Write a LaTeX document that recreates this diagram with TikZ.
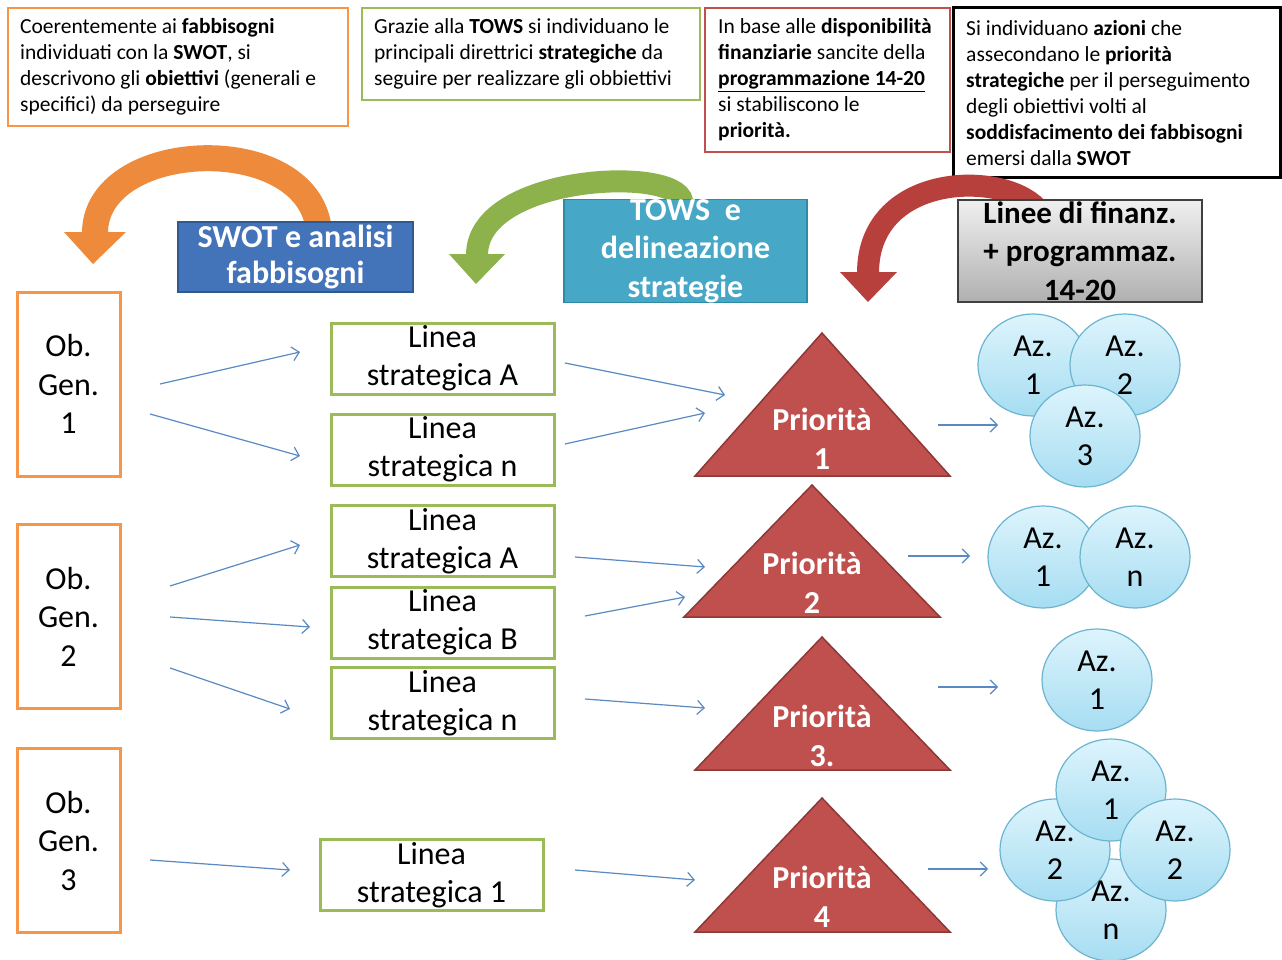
\documentclass[tikz,border=0pt]{standalone}
\usepackage{fontspec}
\setmainfont{Carlito}
\usetikzlibrary{arrows.meta,shapes.geometric}
\definecolor{cOrange}{HTML}{F79646}
\definecolor{cOrangeA}{HTML}{EE8A3C}
\definecolor{cGreen}{HTML}{9BBB59}
\definecolor{cGreenA}{HTML}{8DB24C}
\definecolor{cRed}{HTML}{C0504D}
\definecolor{cRedA}{HTML}{B8403C}
\definecolor{cRedDark}{HTML}{8C3836}
\definecolor{cSwot}{HTML}{4374BA}
\definecolor{cSwotB}{HTML}{2F5A8F}
\definecolor{cTows}{HTML}{46A8C6}
\definecolor{cTowsB}{HTML}{2E8AA5}
\definecolor{cLink}{HTML}{5A8AC4}
\definecolor{cCircT}{HTML}{DDF4FC}
\definecolor{cCircBot}{HTML}{A6DDF2}
\definecolor{cCircB}{HTML}{6CB4CF}
\begin{document}
\begin{tikzpicture}[x=1pt,y=-1pt,
  topbox/.style={draw=#1, line width=2.5pt, fill=white, inner sep=0pt},
  toptext/.style={font=\fontsize{21.5}{26}\selectfont, align=left, inner sep=0pt, anchor=west},
  obbox/.style={draw=cOrange, line width=3pt, fill=white, minimum width=103pt, minimum height=184pt, inner sep=0pt, align=center, font=\fontsize{32}{38.5}\selectfont},
  linbox/.style={draw=cGreen, line width=3pt, fill=white, minimum width=223pt, minimum height=71pt, inner sep=0pt, align=center, font=\fontsize{32}{38}\selectfont},
  headbox/.style={inner sep=0pt, align=center, minimum width=#1},
  prtext/.style={text=white, align=center, font=\bfseries\fontsize{32}{39}\selectfont, inner sep=0pt},
  prtri/.style={fill=cRed, draw=cRedDark, line width=1.5pt, line join=miter},
  az/.style={ellipse, draw=cCircB, line width=1.2pt, top color=cCircT, bottom color=cCircBot, minimum width=110pt, minimum height=102pt, inner sep=0pt},
  aztext/.style={align=center, font=\fontsize{32}{38}\selectfont, inner sep=0pt},
  link/.style={draw=cLink, line width=1.2pt, -{Straight Barb[length=7pt,width=14pt]}},
  bend/.style={line width=#1, line cap=butt}
]
\useasboundingbox (0,0) rectangle (1282,960);
\fill[white] (0,0) rectangle (1282,960);

% ---------- top description boxes ----------
\node[topbox=cOrange, minimum width=340pt, minimum height=118pt] (d1) at (178,67) {};
\node[toptext] (t1) at (20,67) {Coerentemente ai \textbf{fabbisogni}\\individuati con la \textbf{SWOT}, si\\descrivono gli \textbf{obiettivi} (generali e\\specifici) da perseguire};
\node[topbox=cGreen, minimum width=338pt, minimum height=92pt] (d2) at (531,54) {};
\node[toptext] (t2) at (374,54) {Grazie alla \textbf{TOWS} si individuano le\\principali direttrici \textbf{strategiche} da\\seguire per realizzare gli obbiettivi};
\node[topbox=cRed, minimum width=245pt, minimum height=144pt] (d3) at (827.5,80) {};
\node[toptext] (t3) at (718,80) {In base alle \textbf{disponibilità}\\\textbf{finanziarie} sancite della\\\underline{\textbf{programmazione 14-20}}\\si stabiliscono le\\\textbf{priorità.}};
\node[topbox=black, line width=3pt, minimum width=327pt, minimum height=170pt] (d4) at (1116.5,93) {};
\node[toptext] (t4) at (966,93) {Si individuano \textbf{azioni} che\\assecondano le \textbf{priorità}\\\textbf{strategiche} per il perseguimento\\degli obiettivi volti al\\\textbf{soddisfacimento dei fabbisogni}\\emersi dalla \textbf{SWOT}};

% ---------- curved arrows ----------
\draw[bend=26pt, cOrangeA] (318,224) .. controls (300,130) and (95,140) .. (95,233);
\fill[cOrangeA] (64,232) -- (126,232) -- (93,264) -- cycle;
\draw[bend=22pt, cGreenA] (682,205) .. controls (690,165) and (477,172) .. (477,255);
\fill[cGreenA] (449,254) -- (505,254) -- (476,284) -- cycle;
\draw[bend=22pt, cRedA] (1040,212) .. controls (1010,170) and (868,170) .. (868,273);
\fill[cRedA] (840,272) -- (897,272) -- (868,302) -- cycle;

% ---------- header labels ----------
\node[headbox=235pt, minimum height=70pt, fill=cSwot, draw=cSwotB, line width=1.5pt, text=white, font=\bfseries\fontsize{32}{36}\selectfont] (swot) at (295.5,257) {SWOT e analisi\\fabbisogni};
\node[headbox=243pt, minimum height=102pt, fill=cTows, draw=cTowsB, line width=1.5pt, text=white, font=\bfseries\fontsize{32}{38.5}\selectfont] (tows) at (685.5,251) {TOWS\ \ e\\delineazione\\strategie};
\node[headbox=244pt, minimum height=102pt, top color=gray!12, bottom color=gray!62, draw=black!75, line width=1.2pt, font=\bfseries\fontsize{31}{38.5}\selectfont] (linee) at (1080,251) {Linee di finanz.\\+ programmaz.\\14-20};

% ---------- objectives ----------
\node[obbox] (ob1) at (68.5,384) {Ob.\\Gen.\\1};
\node[obbox] (ob2) at (68.5,616.5) {Ob.\\Gen.\\2};
\node[obbox] (ob3) at (68.5,840.5) {Ob.\\Gen.\\3};

% ---------- strategic lines ----------
\node[linbox] (l1a) at (442.5,358.5) {Linea\\strategica A};
\node[linbox] (l1n) at (442.5,449.5) {Linea\\strategica n};
\node[linbox] (l2a) at (442.5,541) {Linea\\strategica A};
\node[linbox] (l2b) at (442.5,622.5) {Linea\\strategica B};
\node[linbox] (l2n) at (442.5,703) {Linea\\strategica n};
\node[linbox] (l31) at (431.5,875) {Linea\\strategica 1};

% ---------- priorities ----------
\path[prtri] (695,476) -- (822,333) -- (950,476) -- cycle;
\node[prtext] (p1) at (822,438.5) {Priorità\\1};
\path[prtri] (684,617) -- (812,485) -- (940,617) -- cycle;
\node[prtext] (p2) at (812,583) {Priorità\\2};
\path[prtri] (695,770) -- (822,637) -- (950,770) -- cycle;
\node[prtext] (p3) at (822,735.5) {Priorità\\3.};
\path[prtri] (695,932) -- (822,798) -- (950,932) -- cycle;
\node[prtext] (p4) at (822,897) {Priorità\\4};

% ---------- actions ----------
\node[az] (g1a) at (1033,365) {};
\node[az] (g1b) at (1125,365) {};
\node[az] (g1c) at (1085,436) {};
\node[az] (g2a) at (1043,557) {};
\node[az] (g2b) at (1135,557) {};
\node[az] (g3a) at (1097,680) {};
\node[az] (g4d) at (1111,910) {};
\node[az] (g4b) at (1055,850) {};
\node[az] (g4a) at (1111,790) {};
\node[az] (g4c) at (1175,850) {};
\node[aztext] (g1at) at (g1a) {Az.\\1};
\node[aztext] (g1bt) at (g1b) {Az.\\2};
\node[aztext] (g1ct) at (g1c) {Az.\\3};
\node[aztext] (g2at) at (g2a) {Az.\\1};
\node[aztext] (g2bt) at (g2b) {Az.\\n};
\node[aztext] (g3at) at (g3a) {Az.\\1};
\node[aztext] (g4at) at (g4a) {Az.\\1};
\node[aztext] (g4bt) at (g4b) {Az.\\2};
\node[aztext] (g4ct) at (g4c) {Az.\\2};
\node[aztext] (g4dt) at (g4d) {Az.\\n};

% ---------- thin arrows ----------
\coordinate (a1s) at (160,384); \coordinate (a1e) at (300,352);
\coordinate (a2s) at (150,414); \coordinate (a2e) at (300,456);
\coordinate (a3s) at (565,363); \coordinate (a3e) at (725,395);
\coordinate (a4s) at (565,444); \coordinate (a4e) at (705,413);
\coordinate (a5s) at (938,425); \coordinate (a5e) at (998,425);
\coordinate (b1s) at (170,586); \coordinate (b1e) at (300,545);
\coordinate (b2s) at (170,617); \coordinate (b2e) at (310,627);
\coordinate (b3s) at (170,668); \coordinate (b3e) at (290,709);
\coordinate (b4s) at (575,557); \coordinate (b4e) at (705,567);
\coordinate (b5s) at (585,616); \coordinate (b5e) at (685,597);
\coordinate (b6s) at (908,556); \coordinate (b6e) at (970,556);
\coordinate (b7s) at (585,699); \coordinate (b7e) at (705,708);
\coordinate (b8s) at (938,687); \coordinate (b8e) at (998,687);
\coordinate (c1s) at (150,860); \coordinate (c1e) at (290,870);
\coordinate (c2s) at (575,870); \coordinate (c2e) at (695,880);
\coordinate (c3s) at (928,869); \coordinate (c3e) at (988,869);
\foreach \s/\e in {a1s/a1e,a2s/a2e,a3s/a3e,a4s/a4e,a5s/a5e,b1s/b1e,b2s/b2e,b3s/b3e,b4s/b4e,b5s/b5e,b6s/b6e,b7s/b7e,b8s/b8e,c1s/c1e,c2s/c2e,c3s/c3e}
  \draw[link] (\s) -- (\e);
\end{tikzpicture}
\end{document}
